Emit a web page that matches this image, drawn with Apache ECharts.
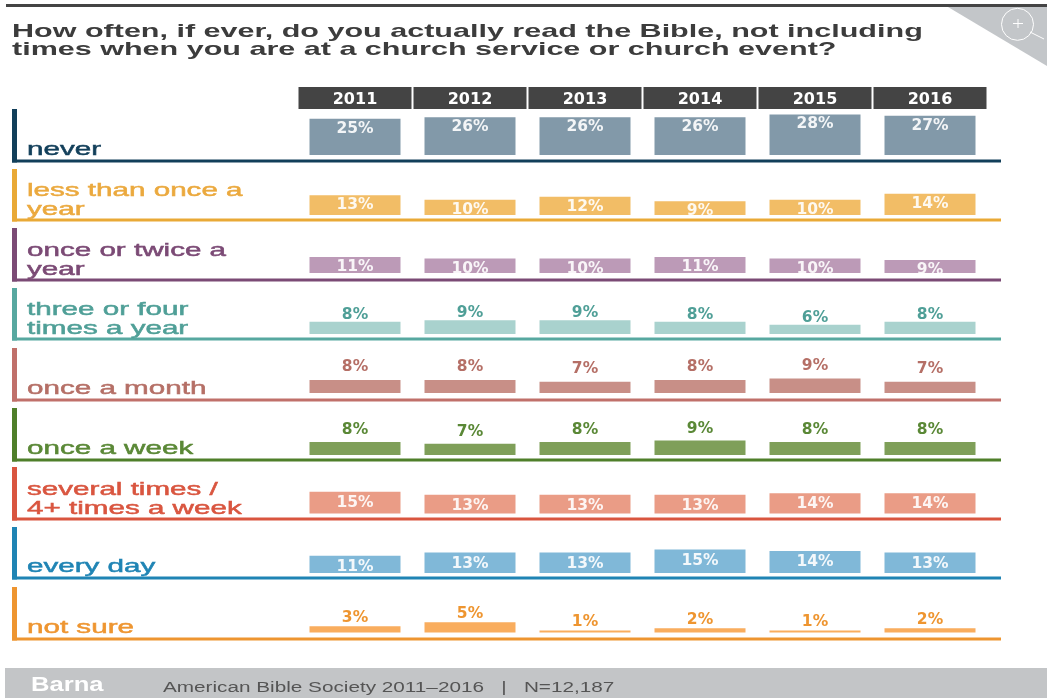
<!DOCTYPE html>
<html><head><meta charset="utf-8">
<style>html,body{margin:0;padding:0;background:#fff}#c{width:1047px;height:698px}</style>
<script src="https://cdn.jsdelivr.net/npm/echarts@6/dist/echarts.min.js"></script>
</head><body><div id="c"></div>
<script>
const years = ['2011','2012','2013','2014','2015','2016'];
const never = [25,26,26,26,28,27];
const lessThanOnceAYear = [13,10,12,9,10,14];
const onceOrTwiceAYear = [11,10,10,11,10,9];
const threeOrFourTimesAYear = [8,9,9,8,6,8];
const onceAMonth = [8,8,7,8,9,7];
const onceAWeek = [8,7,8,9,8,8];
const severalTimes = [15,13,13,13,14,14];
const everyDay = [11,13,13,15,14,13];
const notSure = [3,5,1,2,1,2];

const rows = [
 {name:'never', data:never, base:155, rule:161, top:109, vMax:40, shift:2, line:'#123f5a', bar:'#8299a9', text:'#123f5a', inside:true},
 {name:'less than once a\nyear', data:lessThanOnceAYear, base:215, rule:220, top:169, vMax:38, shift:2, line:'#e9a936', bar:'#f2bd66', text:'#eba93e', inside:true},
 {name:'once or twice a\nyear', data:onceOrTwiceAYear, base:273, rule:280, top:228, vMax:40, shift:2, line:'#7b4a75', bar:'#bc9ab7', text:'#7b4a75', inside:true},
 {name:'three or four\ntimes a year', data:threeOrFourTimesAYear, base:334, rule:339, top:288, vMax:38, shift:5, line:'#57a8a0', bar:'#a9d2ce', text:'#4f9f97', inside:false},
 {name:'once a month', data:onceAMonth, base:393, rule:400, top:348, vMax:36, shift:-1, line:'#c0706a', bar:'#c88f87', text:'#b56f66', inside:false},
 {name:'once a week', data:onceAWeek, base:455, rule:460, top:408, vMax:36, shift:0, line:'#4f7f2a', bar:'#7f9f59', text:'#5a8836', inside:false},
 {name:'several times /\n4+ times a week', data:severalTimes, base:513.5, rule:519, top:467, vMax:40, shift:3, line:'#d9553f', bar:'#ea9c86', text:'#d9553f', inside:true},
 {name:'every day', data:everyDay, base:573, rule:578, top:527, vMax:37, shift:3, line:'#1f84b4', bar:'#80b8d8', text:'#1f84b4', inside:true},
 {name:'not sure', data:notSure, base:632.5, rule:639, top:587, vMax:28, shift:4, line:'#ee9530', bar:'#f9ad5e', text:'#ee9530', inside:false}
];

const WIDE = '"Liberation Sans", Arial, sans-serif';
const PX_H = 58;
const grid = [], xAxis = [], yAxis = [], series = [];
const graphic = [
 {type:'rect', shape:{x:6,y:4,width:1041,height:3}, style:{fill:'#444'}, silent:true},
 {type:'polygon', shape:{points:[[948,7],[1047,7],[1047,66]]}, style:{fill:'#c3c6c9'}, silent:true},
 {type:'circle', shape:{cx:1017.5,cy:24.3,r:16}, style:{fill:'none',stroke:'#fff',lineWidth:1}},
 {type:'line', shape:{x1:1030,y1:32,x2:1044,y2:39}, style:{stroke:'#fff',lineWidth:1}},
 {type:'line', shape:{x1:1013,y1:23.5,x2:1023,y2:23.5}, style:{stroke:'#fff',lineWidth:1}},
 {type:'line', shape:{x1:1018,y1:19,x2:1018,y2:28}, style:{stroke:'#fff',lineWidth:1}},
 {type:'text', x:12, y:23, scaleX:1.65, style:{text:'How often, if ever, do you actually read the Bible, not including\ntimes when you are at a church service or church event?', font:'bold 18.5px '+WIDE, fill:'#3c3c3c', lineHeight:18}},
 {type:'rect', shape:{x:5,y:668,width:1042,height:30}, style:{fill:'#c3c5c7'}},
 {type:'text', x:31, y:675, scaleX:1.22, style:{text:'Barna', font:'bold 21px '+WIDE, fill:'#fff'}},
 {type:'text', x:163, y:681, scaleX:1.48, style:{text:'American Bible Society 2011\u20132016   |   N=12,187', font:'14px '+WIDE, fill:'#555'}}
];
rows.forEach((r,i)=>{
  grid.push({left:297.5, width:690, top:r.base-PX_H, height:PX_H});
  xAxis.push({gridIndex:i, type:'category', data:years, show:false});
  yAxis.push({gridIndex:i, type:'value', min:0, max:r.vMax, show:false});
  series.push({
    type:'bar', xAxisIndex:i, yAxisIndex:i, name:r.name, data:r.data, barWidth:91, silent:true,
    itemStyle:{color:r.bar},
    label:{show:true, position:r.inside?'insideTop':'top', distance:r.inside?0:4, offset:[0,r.shift],
      formatter:p=>p.value+'%', fontFamily:'DejaVu Sans', fontWeight:'bold', fontSize:15.5,
      color:r.inside?'#fff':r.text, opacity:r.inside?0.9:1}
  });
  graphic.push({type:'rect', shape:{x:12,y:r.top,width:5,height:r.rule-r.top+1.5}, style:{fill:r.line}});
  graphic.push({type:'rect', shape:{x:12,y:r.rule-1.5,width:989,height:3}, style:{fill:r.line}});
  const two = r.name.includes('\n');
  graphic.push({type:'text', x:27, y:two? r.rule-39 : r.rule-21, scaleX:1.6,
    style:{text:r.name, font:'18.5px '+WIDE, fill:r.text, stroke:r.text, lineWidth:0.5, lineHeight:19}});
});
// year header strip
grid.push({left:297.5, width:690, top:87, height:22});
xAxis.push({gridIndex:9, type:'category', data:years, position:'bottom',
  axisLine:{show:false}, axisTick:{show:false},
  axisLabel:{inside:true, margin:0, verticalAlign:'bottom', color:'#fff', fontFamily:'DejaVu Sans', fontSize:16, fontWeight:'bold',
    backgroundColor:'#444', width:113, height:18, lineHeight:18, padding:[4,0,0,0], align:'center', interval:0}});
yAxis.push({gridIndex:9, type:'value', show:false});
series.push({type:'bar', xAxisIndex:9, yAxisIndex:9, data:[], silent:true});

const chart = echarts.init(document.getElementById('c'), null, {renderer:'canvas'});
chart.setOption({animation:false, backgroundColor:'#fff', grid, xAxis, yAxis, series, graphic});
</script></body></html>
